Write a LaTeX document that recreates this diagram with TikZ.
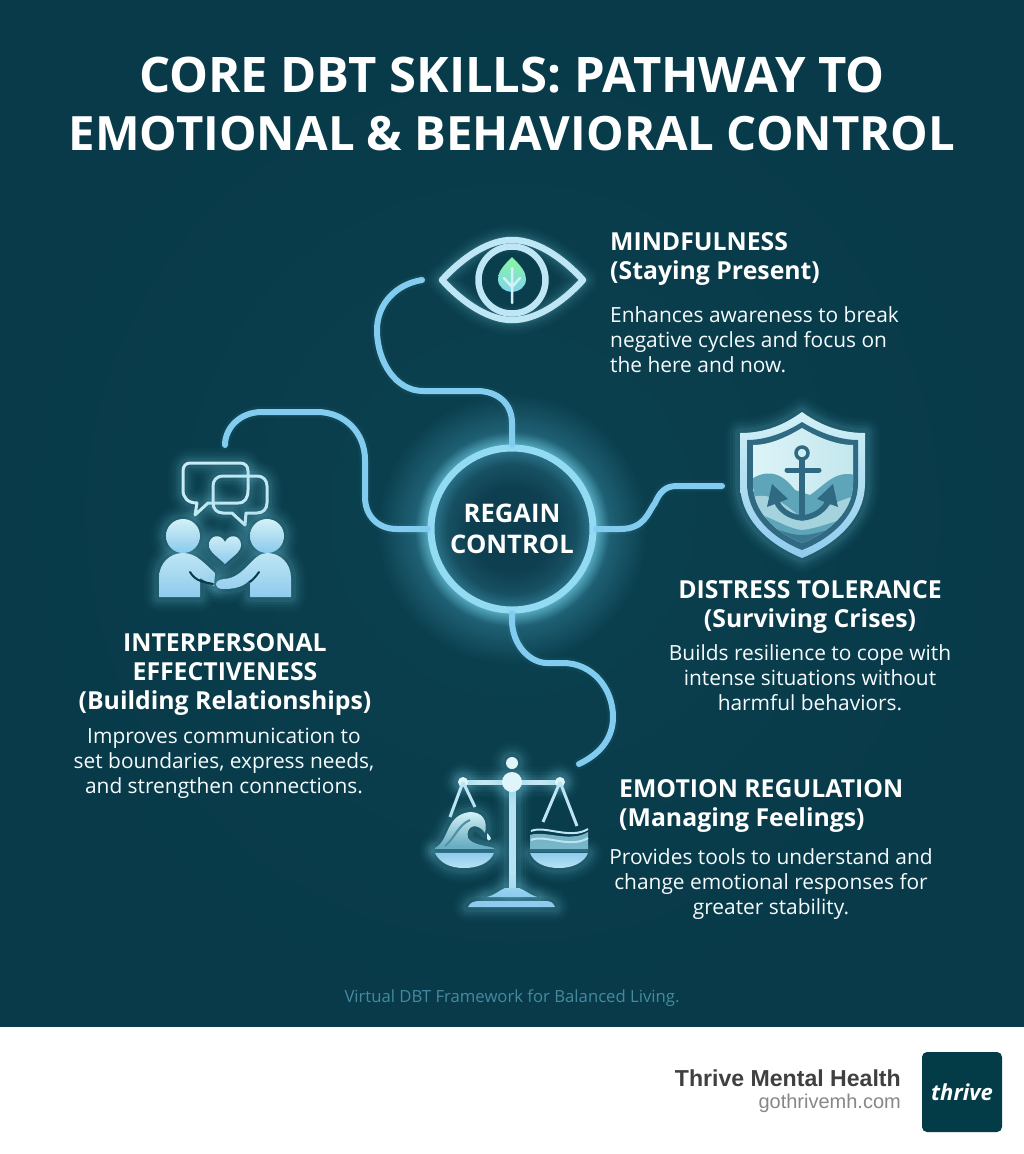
\documentclass[tikz,border=0pt]{standalone}
\usepackage{fontspec}
\setmainfont{Open Sans}
\newfontfamily\footfont{Liberation Sans}
\usetikzlibrary{calc}
\definecolor{bgin}{HTML}{0B4150}
\definecolor{bgout}{HTML}{083A49}
\definecolor{linec}{HTML}{82CDEF}
\definecolor{glowc}{HTML}{7FD4EE}
\definecolor{pale}{HTML}{D2F1F6}
\definecolor{midb}{HTML}{8FCBEE}
\definecolor{shd}{HTML}{2F6A82}
\definecolor{wavec}{HTML}{5FA5BA}
\definecolor{brand}{HTML}{033C47}
\definecolor{hubdark}{HTML}{0D3F50}
\definecolor{hubedge}{HTML}{2E788E}
\definecolor{halo}{HTML}{55A9BE}
\definecolor{halomid}{HTML}{1F6074}
\definecolor{haloend}{HTML}{0A3F4E}
\definecolor{ringc}{HTML}{93DAF3}
\pgfdeclareradialshading{hubshade}{\pgfpointorigin}{color(0bp)=(hubdark); color(13bp)=(hubdark); color(20bp)=(hubdark!70!hubedge); color(25bp)=(hubedge); color(50bp)=(hubedge)}
\pgfdeclareradialshading{haloshade}{\pgfpointorigin}{color(0bp)=(halo); color(15.5bp)=(halo); color(18bp)=(halomid); color(25bp)=(haloend); color(50bp)=(haloend)}
\newcommand\fs[2]{\fontsize{#1}{#2}\selectfont}
\tikzset{
 gl/.style={
  preaction={draw=glowc,draw opacity=.025,line width=30pt,line join=round,line cap=round},
  preaction={draw=glowc,draw opacity=.03,line width=25pt,line join=round,line cap=round},
  preaction={draw=glowc,draw opacity=.045,line width=20pt,line join=round,line cap=round},
  preaction={draw=glowc,draw opacity=.06,line width=15pt,line join=round,line cap=round},
  preaction={draw=glowc,draw opacity=.08,line width=10pt,line join=round,line cap=round}},
 conn/.style={draw=linec,line width=6pt,line cap=round,line join=round,
  preaction={draw=glowc,draw opacity=.05,line width=11pt,line cap=round}},
 icon/.style={draw=#1,line width=6.5pt,line join=round,line cap=round},
 gradfill/.style={top color=pale,bottom color=midb,draw=none},
 hd/.style={text=white,font=\bfseries\fs{24.8}{29},inner sep=0pt},
 bd/.style={text=white!93!glowc,font=\fs{20.9}{25},inner sep=0pt},
 ttl/.style={anchor=base,text=white,inner sep=0pt},
 hub/.style={circle,draw=ringc,line width=7pt,minimum size=162pt,text=white,
   font=\bfseries\fs{25.6}{31},align=center,inner sep=0pt}
}
\begin{document}
\begin{tikzpicture}[x=1pt,y=-1pt]
\useasboundingbox (0,0) rectangle (1024,1154);
\shade[inner color=bgin,outer color=bgout] (0,0) rectangle (1024,1027);
\fill[white] (0,1027) rectangle (1024,1154);
% title
\node[ttl,font=\bfseries\fs{49}{58}] (titleA) at (512,92) {CORE DBT SKILLS: PATHWAY TO};
\node[ttl,font=\bfseries\fs{47.3}{58}] (titleB) at (512,150) {EMOTIONAL \& BEHAVIORAL CONTROL};
% hub
\shade[shading=haloshade] (512,529) circle (135);
\shade[shading=hubshade] (512,529) circle (81);
\node[hub] (center) at (512,529) {REGAIN\\CONTROL};
% connectors
\coordinate (eyeEnd) at (422,280);
\coordinate (peopleEnd) at (225,445);
\coordinate (shieldEnd) at (722,486);
\coordinate (scaleEnd) at (579,764);
\draw[conn] (center.north) -- (512,423) .. controls (512,403) and (497,391) .. (477,391) -- (423,391)
  .. controls (396,391) and (377,362) .. (377,330) .. controls (377,303) and (397,284) .. (eyeEnd);
\draw[conn] (center.west) -- (397,529) .. controls (377,529) and (365,515) .. (365,497) -- (365,460)
  .. controls (365,433) and (345,412) .. (317,412) -- (262,412) .. controls (240,412) and (225,428) .. (peopleEnd);
\draw[conn] (center.east) -- (620,529) .. controls (645,529) and (648,512) .. (655,503)
  .. controls (660,492) and (665,486) .. (677,486) -- (shieldEnd);
\draw[conn] (center.south) -- (512,620) .. controls (512,645) and (530,663) .. (547,663) -- (563,663)
  .. controls (592,663) and (613,688) .. (613,717) .. controls (613,740) and (598,755) .. (scaleEnd);
% eye
\path[icon=pale!70!midb,gl] (442,280) .. controls (465,255) and (490,240) .. (512,240)
  .. controls (535,240) and (560,255) .. (583,280) .. controls (560,305) and (535,320) .. (512,320)
  .. controls (490,320) and (465,305) .. (442,280) -- cycle;
\draw[icon=pale!70!midb] (512,280) circle (33.5);
\shade[top color=green!35!pale,bottom color=glowc] (512,257) .. controls (503,266) and (498,272) .. (498,279)
  .. controls (498,287) and (505,292) .. (512,292) .. controls (519,292) and (526,287) .. (526,279)
  .. controls (526,272) and (521,266) .. (512,257) -- cycle;
\draw[pale,line width=2.5pt,line cap=round] (512,268) -- (512,303) (512,287) -- (504,278) (512,287) -- (520,278);
% shield
\path[gradfill,gl] (802,412) .. controls (780,428) and (760,433) .. (740,433) -- (740,483)
  .. controls (740,520) and (770,545) .. (802,558) .. controls (834,545) and (865,520) .. (865,483)
  -- (865,433) .. controls (845,433) and (824,428) .. (802,412) -- cycle;
\fill[shd] (802,422) .. controls (785,433) and (765,440) .. (747,440) -- (747,483)
  .. controls (747,515) and (772,538) .. (802,550) .. controls (832,538) and (858,515) .. (858,483)
  -- (858,440) .. controls (840,440) and (820,433) .. (802,422) -- cycle;
\begin{scope}
\clip (802,428) .. controls (787,437) and (770,445) .. (753,445) -- (753,483)
  .. controls (753,512) and (775,532) .. (802,543) .. controls (829,532) and (853,512) .. (853,483)
  -- (853,445) .. controls (836,445) and (817,437) .. (802,428) -- cycle;
\shade[left color=pale!70!white,right color=pale!85!wavec] (740,420) rectangle (865,560);
\fill[wavec] (750,480) .. controls (765,470) and (780,470) .. (795,490) -- (810,495)
  .. controls (825,485) and (835,470) .. (855,475) -- (860,560) -- (750,560) -- cycle;
\fill[pale!60!wavec] (750,498) .. controls (770,490) and (785,505) .. (802,518) .. controls (820,512) and (835,500) .. (860,495)
  -- (860,515) .. controls (835,520) and (820,528) .. (802,530) .. controls (785,528) and (770,515) .. (750,512) -- cycle;
\fill[shd!75!wavec] (750,520) .. controls (770,525) and (785,535) .. (802,535) .. controls (820,535) and (835,525) .. (860,520) -- (860,560) -- (750,560) -- cycle;
\end{scope}
\draw[shd,line width=3.5pt] (802,453) circle (6);
\draw[shd,line width=5.5pt] (802,459) -- (802,517);
\draw[shd,line width=5pt,line cap=round] (787,470) -- (819,470);
\draw[shd,line width=5.5pt] (775,497) .. controls (778,510) and (790,517) .. (802,518) .. controls (814,517) and (826,510) .. (830,497);
\fill[shd] (772,484) -- (788,499) -- (767,507) -- cycle (833,484) -- (817,499) -- (838,507) -- cycle;
% people
\path[gl,draw=pale!85!midb,line width=3pt,line join=round] (190,463) -- (240,463) .. controls (245,463) and (248,466) .. (248,471)
  -- (248,490) .. controls (248,498) and (245,503) .. (238,503) -- (220,503) -- (208,503) -- (195,515) -- (197,503)
  .. controls (188,503) and (183,498) .. (183,490) -- (183,471) .. controls (183,466) and (186,463) .. (190,463) -- cycle;
\path[gl,draw=pale!70!midb,line width=3pt,line join=round] (223,476) -- (257,476) .. controls (263,476) and (267,480) .. (267,486)
  -- (267,503) .. controls (267,509) and (263,513) .. (257,513) -- (246,513) -- (245,525) -- (232,513) -- (223,513)
  .. controls (217,513) and (213,509) .. (213,503) -- (213,486) .. controls (213,480) and (217,476) .. (223,476) -- cycle;
\path[gradfill,gl] (183,536) circle (17);
\path[gradfill,gl] (267,536) circle (17);
\path[gradfill,gl] (225,564) .. controls (218,557) and (209,552) .. (209,545) .. controls (209,535) and (221,533) .. (225,542)
  .. controls (229,533) and (241,535) .. (241,545) .. controls (241,552) and (232,557) .. (225,564) -- cycle;
\path[top color=pale!70!midb,bottom color=midb,gl] (159,597) -- (159,578) .. controls (159,563) and (170,553) .. (183,553)
  .. controls (196,553) and (204,563) .. (215,573) -- (214,586) -- (200,578) -- (200,597) -- cycle;
\path[top color=pale!70!midb,bottom color=midb,gl] (291,597) -- (291,578) .. controls (291,563) and (280,553) .. (267,553)
  .. controls (252,553) and (245,578) .. (224,579) .. controls (212,580) and (215,590) .. (224,589)
  .. controls (238,589) and (245,585) .. (250,580) -- (250,597) -- cycle;
\draw[bgout,line width=2pt,line cap=round] (190,572) .. controls (196,582) and (205,582) .. (213,584);
\draw[bgout,line width=2pt,line cap=round] (259,572) .. controls (255,578) and (252,580) .. (250,582);
% scales
\path[gl,fill=pale!60!midb,draw=none] (509,782) rectangle (515.5,890);
\path[top color=midb!80!pale,bottom color=midb,gl] (487,897) .. controls (495,895) and (500,890) .. (505,888) -- (519,888) .. controls (525,890) and (530,895) .. (537,897) -- cycle;
\path[fill=midb,gl] (468,907) .. controls (470,902) and (475,901) .. (480,901) -- (545,901) .. controls (550,901) and (553,902) .. (555,907) -- cycle;
\path[gl,draw=pale!80!midb,line width=5pt] (463,782) -- (560,782);
\path[fill=pale!70!white,gl] (512,763) circle (6) (512,782) circle (10) (463,782) circle (5) (560,782) circle (5);
\draw[pale!70!midb,line width=3pt] (463,782) -- (450,817) (463,782) -- (475,807) (560,782) -- (543,822) (560,782) -- (577,826);
\path[gl,top color=pale,bottom color=wavec] (435,848) .. controls (450,840) and (445,815) .. (470,812) .. controls (482,812) and (488,820) .. (485,833) .. controls (478,822) and (465,825) .. (468,838) .. controls (472,845) and (488,846) .. (494,848) -- (494,849) -- (435,849) -- cycle;
\draw[wavec!60!shd,line width=2pt] (445,846) .. controls (455,838) and (458,825) .. (470,820);
\fill[pale] (487,833) .. controls (490,836) and (491,838) .. (491,839) .. controls (490,841) and (487,841) .. (487,839) -- cycle;
\fill[wavec!80!pale] (530,835) .. controls (545,830) and (570,843) .. (588,832) -- (588,849) -- (530,849) -- cycle;
\draw[pale!70!midb,line width=2pt] (531,831) .. controls (545,825) and (570,840) .. (588,829) (531,840) .. controls (545,834) and (570,849) .. (588,838);
\path[gl,top color=midb,bottom color=pale!60!midb] (435,853) -- (494,853) .. controls (490,863) and (478,868) .. (464,868) .. controls (450,868) and (440,863) .. (435,853) -- cycle;
\path[gl,top color=midb,bottom color=pale!60!midb] (530,853) -- (588,853) .. controls (584,863) and (572,868) .. (559,868) .. controls (545,868) and (534,863) .. (530,853) -- cycle;
\draw[shd,line width=3pt] (435,850.5) -- (494,850.5) (530,850.5) -- (588,850.5);
% labels
\node[hd,anchor=base west,align=left] (mindH) at (610,279) {MINDFULNESS\\(Staying Present)};
\node[bd,anchor=base west,align=left] (mindB) at (610,372) {Enhances awareness to break\\negative cycles and focus on\\the here and now.};
\node[hd,anchor=base,align=center] (distH) at (810,627) {DISTRESS TOLERANCE\\(Surviving Crises)};
\node[bd,anchor=base,align=center] (distB) at (810,710) {Builds resilience to cope with\\intense situations without\\harmful behaviors.};
\node[hd,anchor=base,align=center] (interH) at (225,709) {INTERPERSONAL\\EFFECTIVENESS\\(Building Relationships)};
\node[bd,anchor=base,align=center] (interB) at (224,793) {Improves communication to\\set boundaries, express needs,\\and strengthen connections.};
\node[hd,anchor=base west,align=left] (emoH) at (619,826) {EMOTION REGULATION\\(Managing Feelings)};
\node[bd,anchor=base,align=center] (emoB) at (771,914) {Provides tools to understand and\\change emotional responses for\\greater stability.};
\node[anchor=base,text=glowc!50!bgin,font=\fs{16.7}{20},inner sep=0pt] (foot) at (512,1002) {Virtual DBT Framework for Balanced Living.};
% brand
\node[anchor=base east,text=black!75,font=\footfont\bfseries\fs{23.1}{28},inner sep=0pt] (brandName) at (901,1086) {Thrive Mental Health};
\node[anchor=base east,text=black!47,font=\footfont\fs{20}{24},inner sep=0pt] (brandUrl) at (901,1108) {gothrivemh.com};
\node[fill=brand,rounded corners=5pt,minimum size=80pt,inner sep=0pt,text=white,font=\bfseries\itshape\fs{22}{26}] (logo) at (962,1092) {thrive};
\end{tikzpicture}
\end{document}
